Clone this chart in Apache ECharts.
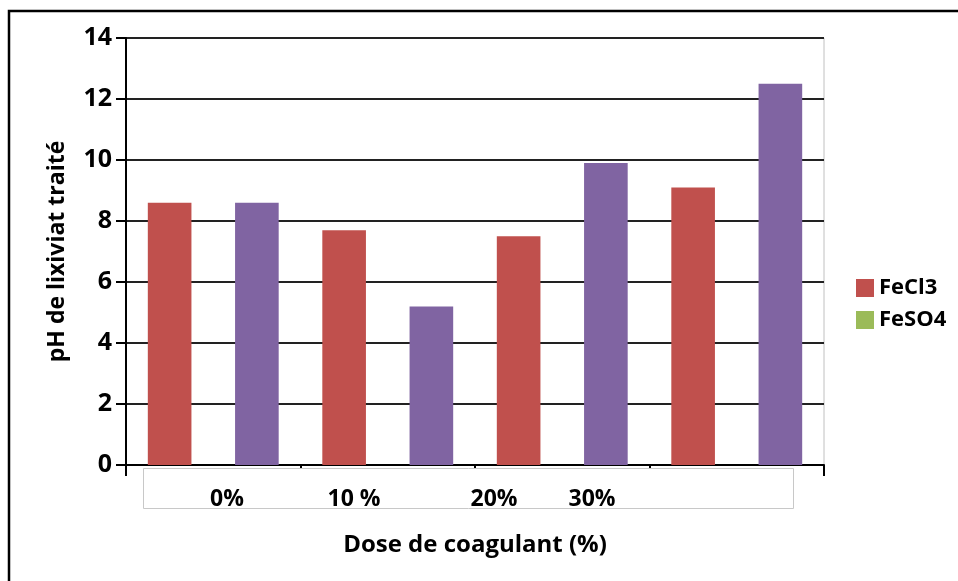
<!DOCTYPE html>
<html>
<head>
<meta charset="utf-8">
<script src="https://cdn.jsdelivr.net/npm/echarts@6/dist/echarts.min.js"></script>
<style>
  html, body { margin: 0; padding: 0; background: #fff; }
  #chart { width: 958px; height: 581px; }
</style>
</head>
<body>
<div id="chart"></div>
<script>
// Dose categories and treated leachate pH per coagulant
const doses = ['0%', '10 %', '20%', '30%'];
const seriesNames = ['FeCl3', 'FeSO4'];
const phFeCl3 = [8.6, 7.7, 7.5, 9.1];
const phFeSO4 = [8.6, 5.2, 9.9, 12.5];
// y-axis ticks
const yMin = 0;
const yMax = 14;
const yStep = 2;

const RED = '#C0504D';
const PURPLE = '#8064A2';
const GREEN = '#9BBB59';
const FONT = '"Open Sans", "DejaVu Sans", sans-serif';

// x positions of the dose labels inside the label box
const doseLabelX = [227, 354, 494, 592];

const chart = echarts.init(document.getElementById('chart'), null, { renderer: 'canvas' });

const labelTexts = doses.map((d, i) => ({
  type: 'text',
  x: doseLabelX[i],
  y: 499,
  z: 101,
  style: {
    text: d,
    fill: '#000',
    font: 'bold 23px ' + FONT,
    align: 'center',
    verticalAlign: 'middle'
  }
}));

chart.setOption({
  animation: false,
  backgroundColor: '#fff',
  grid: {
    left: 126, right: 134, top: 38, bottom: 116,
    show: true, borderColor: '#c0c0c0', borderWidth: 1, backgroundColor: 'transparent'
  },
  legend: {
    orient: 'vertical',
    left: 851,
    top: 272,
    itemWidth: 18,
    itemHeight: 18,
    itemGap: 10,
    icon: 'rect',
    textStyle: { fontFamily: FONT, fontWeight: 'bold', fontSize: 22, color: '#000' },
    data: [
      { name: seriesNames[0], itemStyle: { color: RED } },
      { name: seriesNames[1], itemStyle: { color: GREEN } }
    ]
  },
  xAxis: {
    type: 'category',
    data: doses,
    name: 'Dose de coagulant (%)',
    nameLocation: 'middle',
    nameGap: 68,
    nameTextStyle: { fontFamily: FONT, fontWeight: 'bold', fontSize: 24, color: '#000', verticalAlign: 'top' },
    axisLine: { lineStyle: { color: '#000', width: 2 } },
    axisTick: { show: true, length: 11, lineStyle: { color: '#000', width: 2 } },
    axisLabel: { show: false },
    splitLine: { show: false }
  },
  yAxis: {
    type: 'value',
    min: yMin, max: yMax, interval: yStep,
    name: 'pH de lixiviat traité',
    nameLocation: 'middle',
    nameGap: 57,
    nameTextStyle: { fontFamily: FONT, fontWeight: 'bold', fontSize: 23, color: '#000' },
    axisLine: { show: true, lineStyle: { color: '#000', width: 2 } },
    axisTick: { show: true, length: 10, lineStyle: { color: '#000', width: 2 } },
    axisLabel: { fontFamily: FONT, fontWeight: 'bold', fontSize: 25, color: '#000', margin: 14 },
    splitLine: { show: true, lineStyle: { color: '#222', width: 2 } }
  },
  series: [
    {
      name: seriesNames[0], type: 'bar', data: phFeCl3,
      barWidth: '25%', barGap: '100%',
      itemStyle: { color: RED }
    },
    {
      name: seriesNames[1], type: 'bar', data: phFeSO4,
      barWidth: '25%', barGap: '100%',
      itemStyle: { color: PURPLE }
    }
  ],
  graphic: [
    {
      type: 'rect', z: 100,
      shape: { x: 9, y: 11, width: 1000, height: 700 },
      style: { fill: 'none', stroke: '#000', lineWidth: 2.5 }
    },
    {
      type: 'rect', z: 100,
      shape: { x: 143.5, y: 468.5, width: 650, height: 40 },
      style: { fill: '#fff', stroke: '#c8c8c8', lineWidth: 1 }
    }
  ].concat(labelTexts)
});
</script>
</body>
</html>
